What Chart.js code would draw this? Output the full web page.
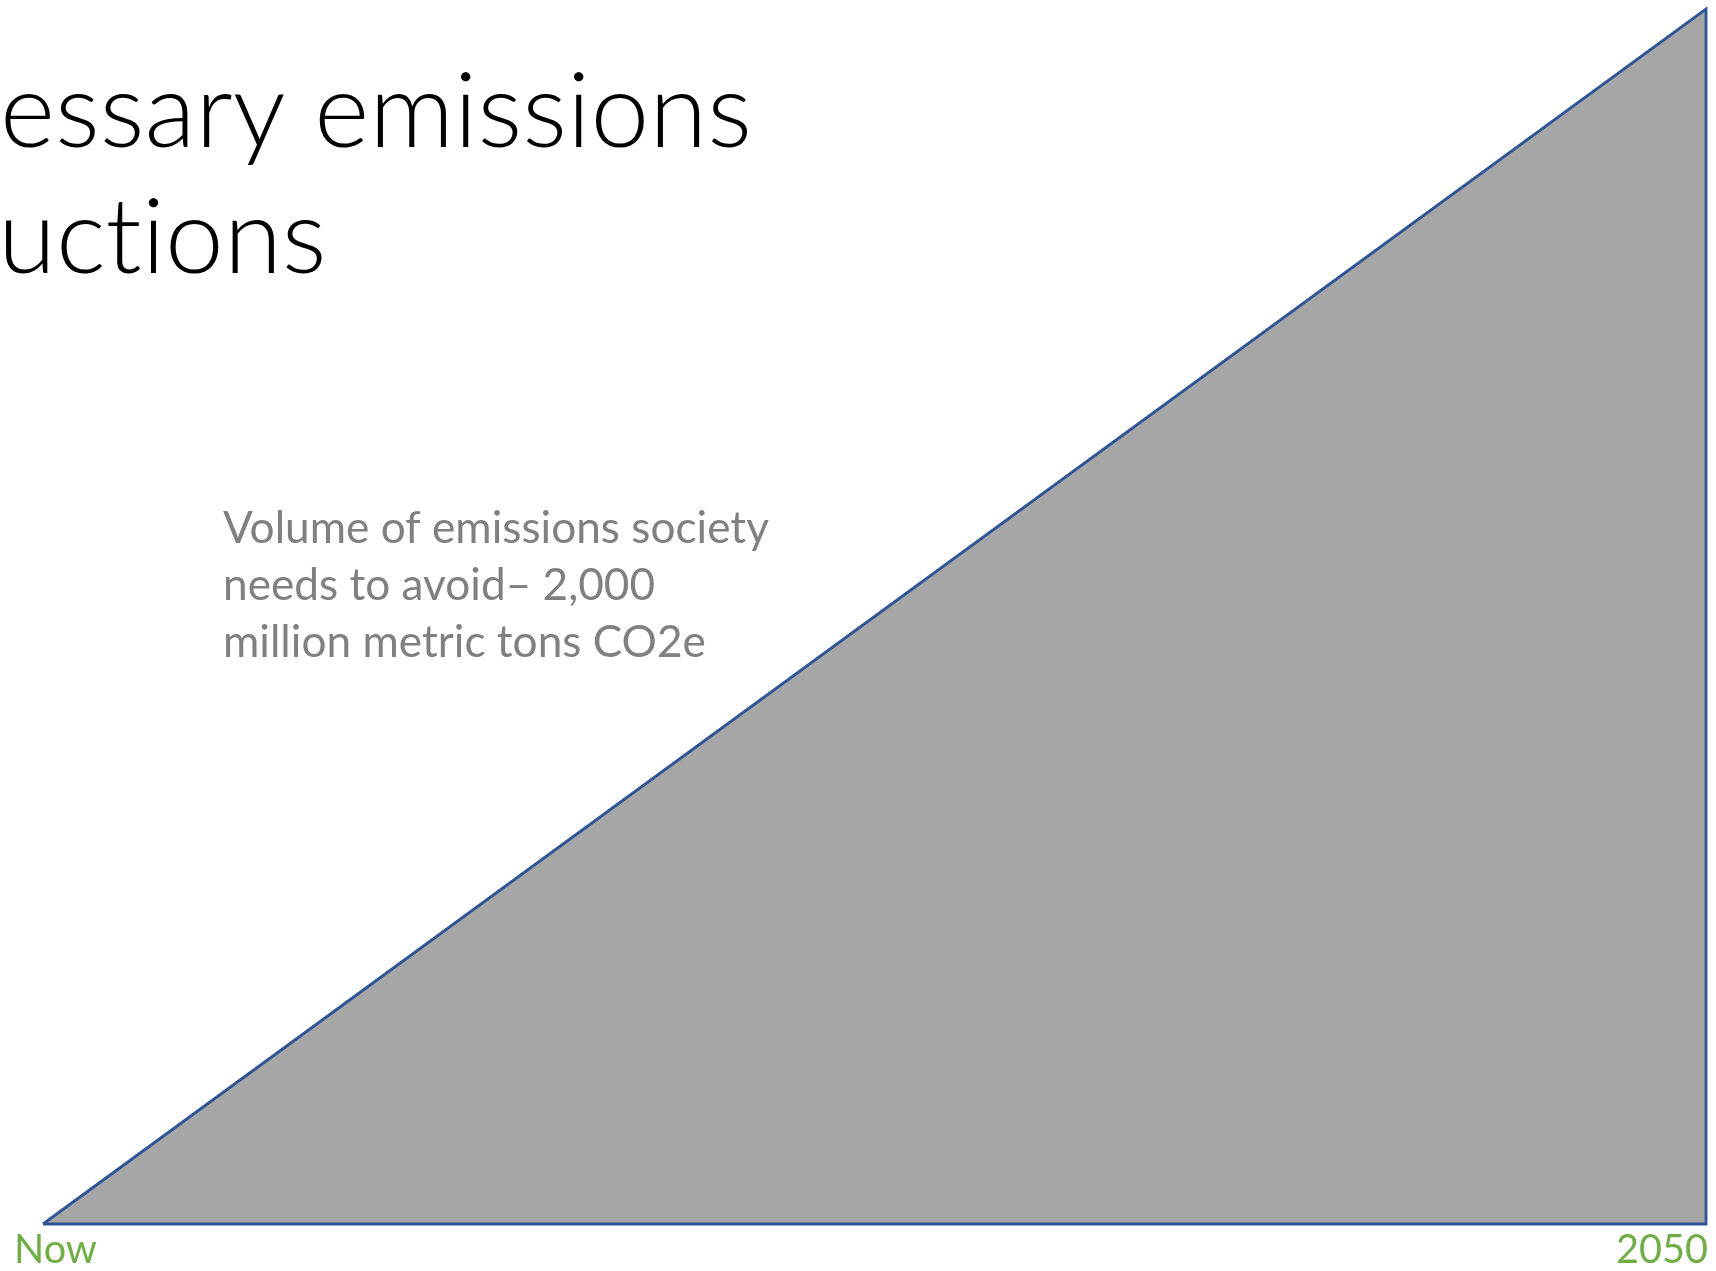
<!DOCTYPE html>
<html>
<head>
<meta charset="utf-8">
<title>Necessary emissions reductions</title>
<script src="https://cdn.jsdelivr.net/npm/chart.js@4/dist/chart.umd.min.js"></script>
<style>
  html, body { margin: 0; padding: 0; background: #ffffff; }
  #wrap { position: relative; width: 1716px; height: 1271px; }
  canvas { font-variant-ligatures: none; }
</style>
</head>
<body>
<div id="wrap"><canvas id="chart" width="1716" height="1271"></canvas></div>
<script>
// Time span on the horizontal axis
const periods = ['Now', '2050'];
// Cumulative avoided emissions, million metric tons CO2e
const avoided = [0, 2000];
// Slide heading (left part runs off the slide edge) and the callout
const headingLines = ['essary emissions', 'uctions'];
const calloutLines = ['Volume of emissions society', 'needs to avoid\u2013 2,000', 'million metric tons CO2e'];

const BLUE = '#2F5597';
const GREY_FILL = '#A6A6A6';
const GREEN = '#70AD47';
const TEXT_GREY = '#808080';

// Size a font so the given text spans a target width
function fitSize(ctx, text, weight, family, target) {
  ctx.font = weight + ' 100px ' + family;
  return 100 * target / ctx.measureText(text).width;
}

const textPlugin = {
  id: 'slideText',
  afterDraw(chart) {
    const ctx = chart.ctx;
    const x = chart.scales.x;
    ctx.save();
    ctx.textBaseline = 'alphabetic';
    // keep letters separate (no "ti" ligature)
    if ('letterSpacing' in ctx) ctx.letterSpacing = '0.01px';
    if ('textRendering' in ctx) ctx.textRendering = 'optimizeSpeed';

    // heading
    const hFam = 'Lato, "Open Sans", sans-serif';
    const hSize = fitSize(ctx, headingLines[0], '300', hFam, 752);
    ctx.font = '300 ' + hSize + 'px ' + hFam;
    ctx.fillStyle = '#000000';
    ctx.textAlign = 'left';
    ctx.fillText(headingLines[0], 0, 147);
    ctx.fillText(headingLines[1], -2, 273);

    // callout text
    const cFam = 'Lato, "Open Sans", sans-serif';
    const cSize = fitSize(ctx, calloutLines[0], '400', cFam, 546);
    ctx.font = '400 ' + cSize + 'px ' + cFam;
    ctx.fillStyle = TEXT_GREY;
    calloutLines.forEach((t, i) => ctx.fillText(t, 223, 543 + i * 57));

    // axis end labels
    const aSize = fitSize(ctx, periods[1], '400', cFam, 92);
    ctx.font = '400 ' + aSize + 'px ' + cFam;
    ctx.fillStyle = GREEN;
    ctx.textAlign = 'left';
    ctx.fillText(periods[0], x.getPixelForValue(0) - 29, 1263);
    ctx.textAlign = 'right';
    ctx.fillText(periods[periods.length - 1], x.getPixelForValue(periods.length - 1) + 2, 1263);
    ctx.restore();
  }
};

const area = periods.map((p, i) => ({ x: p, y: avoided[i] }));
// closed outline: rise, drop back down at the end, return along the base
const outline = area.concat([
  { x: periods[periods.length - 1], y: avoided[0] },
  { x: periods[0], y: avoided[0] }
]);

new Chart(document.getElementById('chart'), {
  type: 'line',
  data: {
    labels: periods,
    datasets: [
      {
        data: area,
        fill: 'origin',
        backgroundColor: GREY_FILL,
        borderWidth: 0,
        pointRadius: 0,
        tension: 0,
        order: 2,
        clip: false
      },
      {
        data: outline,
        fill: false,
        borderColor: BLUE,
        borderWidth: 2.8,
        borderJoinStyle: 'miter',
        pointRadius: 0,
        tension: 0,
        order: 1,
        clip: false
      }
    ]
  },
  options: {
    responsive: false,
    animation: false,
    events: [],
    layout: { padding: { left: 43, right: 10, top: 9, bottom: 47 } },
    plugins: { legend: { display: false }, tooltip: { enabled: false }, title: { display: false } },
    scales: {
      x: { type: 'category', offset: false, display: false },
      y: { min: 0, max: 2000, display: false }
    }
  },
  plugins: [textPlugin]
});
</script>
</body>
</html>
